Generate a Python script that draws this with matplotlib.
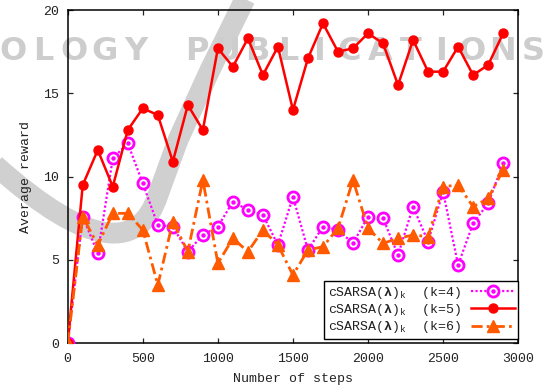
import matplotlib
matplotlib.use("Agg")
from matplotlib import pyplot as plt
from matplotlib.path import Path
from matplotlib.patches import PathPatch
from matplotlib.transforms import IdentityTransform
from matplotlib.legend_handler import HandlerTuple

# data
steps = [0, 100, 200, 300, 400, 500, 600, 700, 800, 900,
         1000, 1100, 1200, 1300, 1400, 1500, 1600, 1700, 1800, 1900,
         2000, 2100, 2200, 2300, 2400, 2500, 2600, 2700, 2800, 2900]
k4 = [0, 7.6, 5.4, 11.1, 12.0, 9.6, 7.1, 7.0, 5.5, 6.5,
      7.0, 8.5, 8.0, 7.7, 5.9, 8.8, 5.6, 7.0, 6.8, 6.0,
      7.6, 7.5, 5.3, 8.2, 6.1, 9.1, 4.7, 7.2, 8.4, 10.8]
k5 = [0, 9.5, 11.6, 9.4, 12.8, 14.1, 13.7, 10.9, 14.3, 12.8,
      17.7, 16.6, 18.3, 16.1, 17.8, 14.0, 17.1, 19.2, 17.5, 17.7,
      18.6, 18.0, 15.5, 18.2, 16.3, 16.3, 17.8, 16.1, 16.7, 18.6]
k6 = [0, 7.6, 5.9, 7.8, 7.8, 6.8, 3.5, 7.3, 5.5, 9.8,
      4.8, 6.3, 5.5, 6.8, 5.9, 4.1, 5.6, 5.8, 6.9, 9.8,
      6.9, 6.0, 6.3, 6.5, 6.4, 9.4, 9.5, 8.2, 8.7, 10.4]
labels = [r"cSARSA($\mathbf{\lambda}$)$_\mathrm{k}$  (k=4)",
          r"cSARSA($\mathbf{\lambda}$)$_\mathrm{k}$  (k=5)",
          r"cSARSA($\mathbf{\lambda}$)$_\mathrm{k}$  (k=6)"]
xticks = [0, 500, 1000, 1500, 2000, 2500, 3000]
yticks = [0, 5, 10, 15, 20]

plt.rcParams["font.family"] = ["Liberation Mono", "DejaVu Sans Mono"]
plt.rcParams["mathtext.fontset"] = "custom"
plt.rcParams["mathtext.rm"] = "Liberation Mono"
plt.rcParams["mathtext.it"] = "Liberation Mono"
plt.rcParams["mathtext.bf"] = "Liberation Mono:bold"

fig = plt.figure(figsize=(5.44, 3.90), dpi=100)
H = 390

# watermark (grey band + big letters) behind the plot
verts = [(247, -5), (210, 70), (178, 140), (158, 195),
         (140, 250), (90, 250), (-5, 165)]
codes = [Path.MOVETO, Path.LINETO, Path.LINETO, Path.LINETO,
         Path.CURVE4, Path.CURVE4, Path.CURVE4]
band = Path([(x, H - y) for x, y in verts], codes)
fig.patches.append(PathPatch(band, transform=IdentityTransform(), fill=False,
                             edgecolor="#d0d0d0", lw=15, capstyle="butt",
                             zorder=-5))
wm = "OLOGY PUBLICATIONS"
for i, ch in enumerate(wm):
    fig.text((13 + 30.6 * i) / 544, 1 - 52 / H, ch, ha="center", va="center",
             fontsize=23, fontweight="bold", family="DejaVu Sans",
             color="#cdcdcd", zorder=-5)

ax = fig.add_axes([0.1245, 0.1197, 0.828, 0.8546])
ax.set_facecolor("none")
ax.set_zorder(2)

l4, = ax.plot(steps, k4, color="#ff00ff", lw=1.6, ls=(0, (1, 1)),
              marker="o", ms=8, mfc="white", mec="#ff00ff", mew=2, zorder=3)
d4, = ax.plot(steps, k4, ls="none", marker="o", ms=2.2, color="#ff00ff",
              zorder=3)
l5, = ax.plot(steps, k5, color="#ff0000", lw=1.8, marker="o", ms=6.5,
              zorder=4)
l6, = ax.plot(steps, k6, color="#ff5a00", lw=2, ls=(0, (4, 1.5, 1, 1.5)),
              marker="^", ms=8.5, zorder=5)

ax.set_xlim(0, 3000)
ax.set_ylim(0, 20)
ax.set_xticks(xticks)
ax.set_yticks(yticks)
ax.tick_params(direction="in", length=3.5, width=0.9, top=True, right=True,
               labelsize=9.5, colors="#222222", pad=6)
ax.tick_params(axis="x", pad=7)
for s in ax.spines.values():
    s.set_linewidth(1.1)
    s.set_color("black")

ax.set_xlabel("Number of steps", fontsize=9.5, color="#222222", labelpad=6)
ax.set_ylabel("Average reward", fontsize=9.5, color="#222222", labelpad=8)

leg = ax.legend([(l4, d4), l5, l6], labels, loc="lower right",
                bbox_to_anchor=(1.0, 0.014), fontsize=9.5, markerfirst=False,
                handlelength=3.3, handletextpad=0.8, labelspacing=0.1,
                borderpad=0.25, fancybox=False, framealpha=1,
                edgecolor="black", borderaxespad=0,
                handler_map={tuple: HandlerTuple(ndivide=1)})
leg.get_frame().set_linewidth(1.0)
for t in leg.get_texts():
    t.set_color("#222222")

fig.savefig("out.png", dpi=100)
